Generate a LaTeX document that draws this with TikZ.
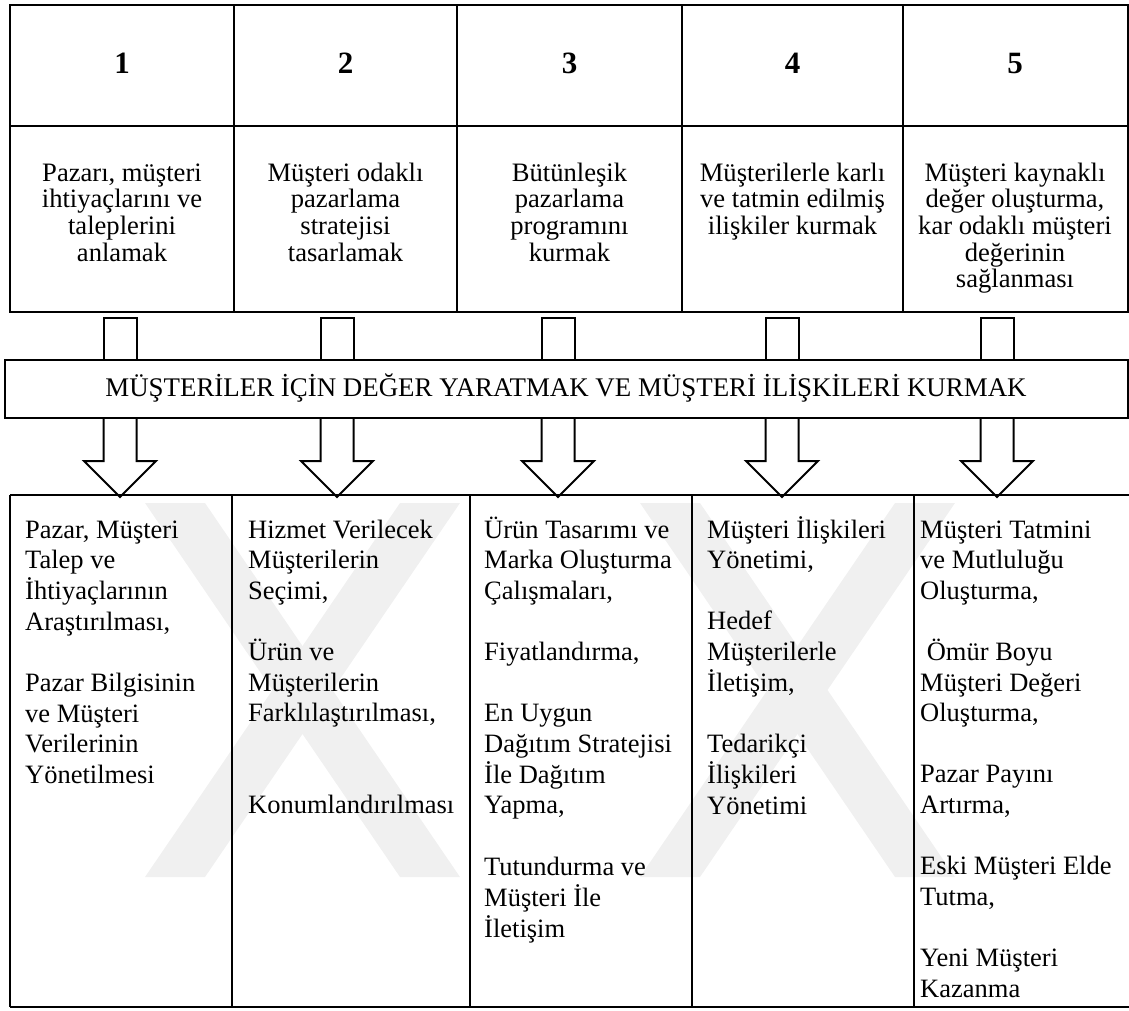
\documentclass[tikz,border=0pt]{standalone}
\usepackage{fontspec}
\setmainfont{Liberation Serif}
\newcommand{\cellC}[1]{\begin{tabular}[t]{@{}c@{}}#1\end{tabular}}
\newcommand{\cellL}[1]{\begin{tabular}[t]{@{}l@{}}#1\end{tabular}}
\begin{document}
\begin{tikzpicture}[x=1pt,y=-1pt,
  rule/.style={draw=black, line width=2pt},
  blockarrow/.style={draw=black, line width=2pt, line join=miter},
  emblem/.style={fill=black!6, draw=none},
  num/.style={font=\fontsize{31}{33}\selectfont\bfseries, inner sep=0pt, anchor=base},
  goal/.style={font=\fontsize{26.6}{26.7}\selectfont, inner sep=0pt, anchor=base},
  task/.style={font=\fontsize{26.5}{30.6}\selectfont, inner sep=0pt, anchor=base west},
  title/.style={font=\fontsize{26.9}{28}\selectfont, inner sep=0pt, anchor=base}]
\useasboundingbox (0,0) rectangle (1129,1010);

% faint emblem behind the lower table: two crossed pairs of bars
\fill[emblem] (145,503) -- (205,503) -- (460,877) -- (400,877) -- cycle;
\fill[emblem] (400,503) -- (460,503) -- (205,877) -- (145,877) -- cycle;
\fill[emblem] (640,503) -- (700,503) -- (955,877) -- (895,877) -- cycle;
\fill[emblem] (895,503) -- (955,503) -- (700,877) -- (640,877) -- cycle;

% upper table: numbered stages and their aims
\draw[rule] (10,5) rectangle (1127.5,311.7);
\draw[rule] (10,125.7) -- (1127.5,125.7);
\foreach \x in {234,457,682,903} \draw[rule] (\x,5) -- (\x,311.7);

\node[num] (n1) at (122,73) {1};
\node[num] (n2) at (345.5,73) {2};
\node[num] (n3) at (569.5,73) {3};
\node[num] (n4) at (792.5,73) {4};
\node[num] (n5) at (1015,73) {5};

\node[goal] (g1) at (122,181) {\cellC{Pazarı, müşteri\\ihtiyaçlarını ve\\taleplerini\\anlamak}};
\node[goal] (g2) at (345.5,181) {\cellC{Müşteri odaklı\\pazarlama\\stratejisi\\tasarlamak}};
\node[goal] (g3) at (569.5,181) {\cellC{Bütünleşik\\pazarlama\\programını\\kurmak}};
\node[goal] (g4) at (792.5,181) {\cellC{Müşterilerle karlı\\ve tatmin edilmiş\\ilişkiler kurmak}};
\node[goal] (g5) at (1015,181) {\cellC{Müşteri kaynaklı\\değer oluşturma,\\kar odaklı müşteri\\değerinin\\sağlanması}};

% banner across the middle
\draw[rule] (5,360) rectangle (1127.5,418);
\node[title] (banner) at (566,396) {MÜŞTERİLER İÇİN DEĞER YARATMAK VE MÜŞTERİ İLİŞKİLERİ KURMAK};

% block arrows passing through the banner
\foreach \c in {120,337,558,782,997}{
  \draw[blockarrow] (\c-16.5,360) -- (\c-16.5,318) -- (\c+16.5,318) -- (\c+16.5,360);
  \draw[blockarrow] (\c-16.5,418) -- (\c-16.5,461) -- (\c-36,461) -- (\c,497)
        -- (\c+36,461) -- (\c+16.5,461) -- (\c+16.5,418);
}

% lower table: activities of each stage
\draw[rule] (10,495) -- (1129,495);
\draw[rule] (10,1007) -- (1129,1007);
\foreach \x in {10,232,470,692,914} \draw[rule] (\x,495) -- (\x,1007);

\node[task] (t1) at (25,538) {\cellL{Pazar, Müşteri\\Talep ve\\İhtiyaçlarının\\Araştırılması,\\ \\Pazar Bilgisinin\\ve Müşteri\\Verilerinin\\Yönetilmesi}};
\node[task] (t2) at (248,538) {\cellL{Hizmet Verilecek\\Müşterilerin\\Seçimi,\\ \\Ürün ve\\Müşterilerin\\Farklılaştırılması,\\ \\ \\Konumlandırılması}};
\node[task] (t3) at (484,538) {\cellL{Ürün Tasarımı ve\\Marka Oluşturma\\Çalışmaları,\\ \\Fiyatlandırma,\\ \\En Uygun\\Dağıtım Stratejisi\\İle Dağıtım\\Yapma,\\ \\Tutundurma ve\\Müşteri İle\\İletişim}};
\node[task] (t4) at (707,538) {\cellL{Müşteri İlişkileri\\Yönetimi,\\ \\Hedef\\Müşterilerle\\İletişim,\\ \\Tedarikçi\\İlişkileri\\Yönetimi}};
\node[task] (t5) at (920,538) {\cellL{Müşteri Tatmini\\ve Mutluluğu\\Oluşturma,\\ \\\ Ömür Boyu\\Müşteri Değeri\\Oluşturma,\\ \\Pazar Payını\\Artırma,\\ \\Eski Müşteri Elde\\Tutma,\\ \\Yeni Müşteri\\Kazanma}};
\end{tikzpicture}
\end{document}
